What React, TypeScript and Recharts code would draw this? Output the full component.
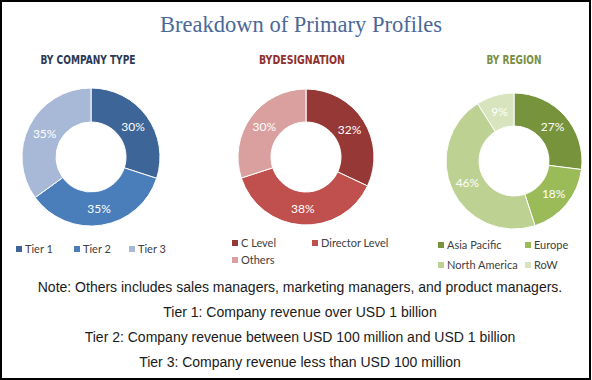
import { PieChart, Pie, Cell } from "recharts";

const companyTypes = ["Tier 1", "Tier 2", "Tier 3"];
const companyShares = [30, 35, 35];
const designations = ["C Level", "Director Level", "Others"];
const designationShares = [32, 38, 30];
const regions = ["Asia Pacific", "Europe", "North America", "RoW"];
const regionShares = [27, 18, 46, 9];

const noteLines = [
  "Note: Others includes sales managers, marketing managers, and product managers.",
  "Tier 1: Company revenue over USD 1 billion",
  "Tier 2: Company revenue between USD 100 million and USD 1 billion",
  "Tier 3: Company revenue less than USD 100 million",
];

const BLUES = ["#3d6597", "#4a7ebb", "#a8b9d8"];
const REDS = ["#963836", "#c0504d", "#daa09f"];
const GREENS = ["#77933c", "#9bbb59", "#bdd292", "#d7e4bd"];

const LABEL_FONT = "Lato, 'Open Sans', sans-serif";

const toRows = (names: string[], values: number[]) =>
  names.map((name, i) => ({ name, value: values[i] }));

const RADIAN = Math.PI / 180;

// white percentage in the middle of the ring
const renderPct = (props: any) => {
  const { cx, cy, midAngle, innerRadius, outerRadius, value } = props;
  const r = (innerRadius + outerRadius) / 2;
  const x = cx + r * Math.cos(-midAngle * RADIAN);
  const y = cy + r * Math.sin(-midAngle * RADIAN);
  return (
    <text
      x={x}
      y={y}
      fill="#ffffff"
      textAnchor="middle"
      dominantBaseline="central"
      fontSize={12}
      fontFamily={LABEL_FONT}
    >
      {value}%
    </text>
  );
};

type LegendItem = { name: string; color: string; x: number; y: number };

function LegendKeys({ items }: { items: LegendItem[] }) {
  return (
    <g>
      {items.map((it) => (
        <g key={it.name}>
          <rect x={it.x} y={it.y - 3} width={6} height={6} fill={it.color} />
          <text
            x={it.x + 9}
            y={it.y + 4}
            fontSize={11}
            fill="#404040"
            fontFamily={LABEL_FONT}
          >
            {it.name}
          </text>
        </g>
      ))}
    </g>
  );
}

const subFont = "'DejaVu Sans Condensed', 'Liberation Sans', sans-serif";

function SubTitle({ x, w, color, children }: { x: number; w: number; color: string; children: string }) {
  return (
    <text
      x={x}
      y={64}
      textAnchor="middle"
      fontSize={12}
      fontWeight="bold"
      fill={color}
      fontFamily={subFont}
      textLength={w}
      lengthAdjust="spacingAndGlyphs"
    >
      {children}
    </text>
  );
}

export default function App() {
  const companyData = toRows(companyTypes, companyShares);
  const designationData = toRows(designations, designationShares);
  const regionData = toRows(regions, regionShares);

  const legend1: LegendItem[] = [
    { name: companyTypes[0], color: BLUES[0], x: 16, y: 249 },
    { name: companyTypes[1], color: BLUES[1], x: 74, y: 249 },
    { name: companyTypes[2], color: BLUES[2], x: 129, y: 249 },
  ];
  const legend2: LegendItem[] = [
    { name: designations[0], color: REDS[0], x: 232, y: 243 },
    { name: designations[1], color: REDS[1], x: 312, y: 243 },
    { name: designations[2], color: REDS[2], x: 232, y: 260 },
  ];
  const legend3: LegendItem[] = [
    { name: regions[0], color: GREENS[0], x: 438, y: 245 },
    { name: regions[1], color: GREENS[1], x: 525, y: 245 },
    { name: regions[2], color: GREENS[2], x: 438, y: 265 },
    { name: regions[3], color: GREENS[3], x: 525, y: 265 },
  ];

  return (
    <div
      style={{
        position: "absolute",
        left: 0,
        top: 0,
        width: 592,
        height: 380,
        background: "#ffffff",
      }}
    >
      <div style={{ position: "absolute", left: 0, top: 0 }}>
        <PieChart width={592} height={380} margin={{ top: 0, right: 0, bottom: 0, left: 0 }}>
          <Pie
            data={companyData}
            dataKey="value"
            cx={91}
            cy={157}
            innerRadius={35}
            outerRadius={69}
            startAngle={90}
            endAngle={-270}
            stroke="#ffffff"
            strokeWidth={1}
            label={renderPct}
            labelLine={false}
            isAnimationActive={false}
          >
            {companyData.map((d, i) => (
              <Cell key={d.name} fill={BLUES[i]} />
            ))}
          </Pie>
          <Pie
            data={designationData}
            dataKey="value"
            cx={306}
            cy={157}
            innerRadius={35}
            outerRadius={68}
            startAngle={90}
            endAngle={-270}
            stroke="#ffffff"
            strokeWidth={1}
            label={renderPct}
            labelLine={false}
            isAnimationActive={false}
          >
            {designationData.map((d, i) => (
              <Cell key={d.name} fill={REDS[i]} />
            ))}
          </Pie>
          <Pie
            data={regionData}
            dataKey="value"
            cx={514}
            cy={161}
            innerRadius={35}
            outerRadius={68}
            startAngle={90}
            endAngle={-270}
            stroke="#ffffff"
            strokeWidth={1}
            label={renderPct}
            labelLine={false}
            isAnimationActive={false}
          >
            {regionData.map((d, i) => (
              <Cell key={d.name} fill={GREENS[i]} />
            ))}
          </Pie>
        </PieChart>
      </div>

      <svg
        width={592}
        height={380}
        style={{ position: "absolute", left: 0, top: 0, pointerEvents: "none" }}
      >
        <text
          x={301}
          y={32}
          textAnchor="middle"
          fontSize={22.5}
          fill="#4a6897"
          fontFamily="'Liberation Serif', serif"
        >
          Breakdown of Primary Profiles
        </text>

        <SubTitle x={88} w={95} color="#2b3a55">BY COMPANY TYPE</SubTitle>
        <SubTitle x={302} w={86} color="#8f302f">BYDESIGNATION</SubTitle>
        <SubTitle x={514} w={55} color="#7a8f45">BY REGION</SubTitle>

        <LegendKeys items={legend1} />
        <LegendKeys items={legend2} />
        <LegendKeys items={legend3} />

        {noteLines.map((line, i) => (
          <text
            key={line}
            x={300}
            y={292 + i * 25}
            textAnchor="middle"
            fontSize={14}
            fill="#1a1a1a"
            fontFamily="'Liberation Sans', Arial, sans-serif"
          >
            {line}
          </text>
        ))}
      </svg>

      <div
        style={{
          position: "absolute",
          left: 0,
          top: 0,
          width: 591,
          height: 380,
          boxSizing: "border-box",
          border: "2px solid #000000",
          pointerEvents: "none",
        }}
      />
    </div>
  );
}
